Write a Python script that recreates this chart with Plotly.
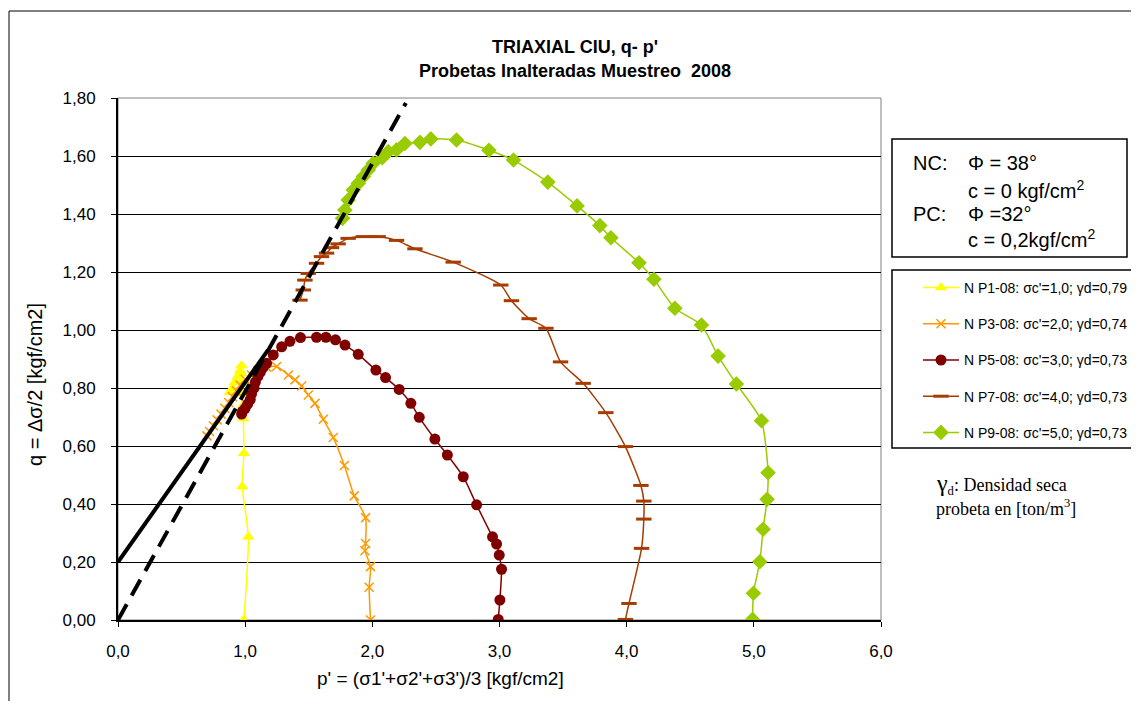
import plotly.graph_objects as go

# ---------------- data ----------------
p1_x = [0.99, 1.025, 0.977, 0.99, 0.985, 0.98, 0.975, 0.97, 0.97, 0.972, 0.96, 0.94, 0.92, 0.90, 0.88]
p1_y = [0.0, 0.287, 0.46, 0.575, 0.695, 0.74, 0.78, 0.82, 0.85, 0.878, 0.86, 0.84, 0.82, 0.80, 0.785]

p3_x = [1.986, 1.975, 1.986, 1.942, 1.947, 1.947, 1.858, 1.78, 1.693, 1.615, 1.549, 1.497, 1.444,
        1.392, 1.34, 1.247, 1.17, 1.10, 1.05, 1.0, 0.96, 0.93, 0.90, 0.87, 0.84, 0.81, 0.78, 0.75,
        0.72, 0.70]
p3_y = [0.0, 0.113, 0.184, 0.239, 0.264, 0.353, 0.428, 0.533, 0.629, 0.692, 0.747, 0.776, 0.807,
        0.828, 0.845, 0.874, 0.872, 0.86, 0.845, 0.83, 0.81, 0.79, 0.77, 0.75, 0.73, 0.71, 0.69,
        0.67, 0.65, 0.635]

p5_x = [2.99, 3.003, 3.016, 2.998, 2.977, 2.945, 2.82, 2.715, 2.59, 2.492, 2.369, 2.303, 2.211,
        2.104, 2.028, 1.889, 1.785, 1.71, 1.635, 1.561, 1.435, 1.352, 1.287, 1.221, 1.169, 1.14,
        1.12, 1.10, 1.08, 1.07, 1.05, 1.04, 1.02, 1.0, 0.98, 0.972]
p5_y = [0.002, 0.069, 0.175, 0.224, 0.262, 0.287, 0.397, 0.494, 0.569, 0.624, 0.699, 0.747, 0.795,
        0.836, 0.862, 0.916, 0.948, 0.966, 0.975, 0.975, 0.974, 0.961, 0.942, 0.914, 0.885, 0.87,
        0.855, 0.84, 0.82, 0.80, 0.78, 0.76, 0.745, 0.73, 0.72, 0.71]

p7_x = [3.99, 4.018, 4.117, 4.135, 4.135, 4.112, 3.99, 3.836, 3.658, 3.48, 3.365, 3.233, 3.094,
        3.01, 2.636, 2.335, 2.19, 2.046, 1.929, 1.81, 1.731, 1.679, 1.64, 1.6, 1.561, 1.496, 1.47,
        1.457, 1.431]
p7_y = [0.002, 0.057, 0.247, 0.348, 0.41, 0.464, 0.598, 0.715, 0.816, 0.89, 1.006, 1.039, 1.101,
        1.155, 1.234, 1.28, 1.309, 1.322, 1.322, 1.316, 1.297, 1.284, 1.265, 1.253, 1.23, 1.195,
        1.172, 1.138, 1.103]

p9_x = [4.99, 4.997, 5.047, 5.073, 5.104, 5.112, 5.06, 4.863, 4.719, 4.588, 4.379, 4.214, 4.097,
        3.876, 3.789, 3.61, 3.38, 3.11, 2.917, 2.662, 2.46, 2.374, 2.256, 2.19, 2.125, 2.078, 2.007,
        1.968, 1.929, 1.89, 1.85, 1.81, 1.784, 1.766]
p9_y = [0.002, 0.092, 0.201, 0.313, 0.416, 0.508, 0.687, 0.814, 0.91, 1.017, 1.075, 1.175, 1.232,
        1.318, 1.36, 1.428, 1.51, 1.586, 1.62, 1.655, 1.659, 1.647, 1.643, 1.621, 1.615, 1.594,
        1.575, 1.552, 1.529, 1.506, 1.483, 1.448, 1.414, 1.385]

nc_x = [0.0, 2.264]
nc_y = [0.0, 1.783]
pc_x = [0.0, 1.18]
pc_y = [0.2, 0.931]

series_names = [
    "N P1-08: σc'=1,0; γd=0,79",
    "N P3-08: σc'=2,0; γd=0,74",
    "N P5-08: σc'=3,0; γd=0,73",
    "N P7-08: σc'=4,0; γd=0,73",
    "N P9-08: σc'=5,0; γd=0,73",
]
series_colors = ["#FFFF00", "#FF9900", "#800000", "#A63C00", "#99CC00"]
x_ticks = [0, 1, 2, 3, 4, 5, 6]
y_ticks = [0, 0.2, 0.4, 0.6, 0.8, 1.0, 1.2, 1.4, 1.6, 1.8]

# ---------------- layout geometry (screen pixels; page body has 8px margin) ----------------
OFF = 8
W, H = 1139 - 2 * OFF, 709 - 2 * OFF
L, R, T, B = 118, 881, 98, 620  # plot area on screen


def px(xp):
    return (xp - L) / (R - L)


def py(yp):
    return (B - yp) / (B - T)


FONT = "Liberation Sans, Arial, sans-serif"
fig = go.Figure()

markers = [
    dict(symbol="triangle-up", size=11, color=series_colors[0]),
    dict(symbol="x-thin-open", size=9, color=series_colors[1], line=dict(width=1.5, color=series_colors[1])),
    dict(symbol="circle", size=11, color=series_colors[2]),
    dict(symbol="line-ew-open", size=11, color=series_colors[3], line=dict(width=3, color=series_colors[3])),
    dict(symbol="diamond", size=12, color=series_colors[4]),
]
data = [(p1_x, p1_y), (p3_x, p3_y), (p5_x, p5_y), (p7_x, p7_y), (p9_x, p9_y)]
for i, (xs, ys) in enumerate(data):
    fig.add_trace(go.Scatter(
        x=xs, y=ys, mode="lines+markers", name=series_names[i],
        line=dict(color=series_colors[i], width=1.5, shape="spline", smoothing=0.6),
        marker=markers[i], legendgroup=f"g{i}",
    ))

fig.add_trace(go.Scatter(x=nc_x, y=nc_y, mode="lines", showlegend=False,
                         line=dict(color="black", width=4, dash="18px,10px")))
fig.add_trace(go.Scatter(x=pc_x, y=pc_y, mode="lines", showlegend=False,
                         line=dict(color="black", width=4)))

shapes = [
    dict(type="rect", xref="paper", yref="paper", x0=px(9), x1=px(1150), y0=py(720), y1=py(11),
         line=dict(color="black", width=1), layer="below"),
    dict(type="rect", xref="paper", yref="paper", x0=0, x1=1, y0=0, y1=1,
         line=dict(color="#808080", width=1), layer="below"),
    dict(type="rect", xref="paper", yref="paper", x0=px(892), x1=px(1127), y0=py(257), y1=py(139),
         line=dict(color="black", width=1.5)),
    dict(type="rect", xref="paper", yref="paper", x0=px(892), x1=px(1150), y0=py(448), y1=py(270),
         line=dict(color="black", width=1.5)),
]

ann = []


def txt(x, y, s, size=20, family=FONT, xanchor="left", **kw):
    ann.append(dict(x=px(x), y=py(y), xref="paper", yref="paper", text=s, showarrow=False,
                    xanchor=xanchor, yanchor="middle", font=dict(size=size, family=family, color="black"),
                    **kw))


txt(911, 163, "NC:")
txt(966, 163, "Φ = 38°")
txt(966, 189, "c = 0 kgf/cm<sup>2</sup>")
txt(911, 214, "PC:")
txt(966, 214, "Φ =32°")
txt(966, 239, "c = 0,2kgf/cm<sup>2</sup>")

SERIF = "Liberation Serif, Times New Roman, serif"
txt(934, 484, "<span style='font-size:24px'>γ</span><sub>d</sub>: Densidad seca", size=18, family=SERIF)
txt(934, 507, "probeta en [ton/m<sup>3</sup>]", size=18, family=SERIF)

txt(575, 47, "<b>TRIAXIAL CIU, q- p'</b>", size=18, xanchor="center")
txt(575, 71, "<b>Probetas Inalteradas Muestreo  2008</b>", size=18, xanchor="center")

txt(440, 678, "p' = (σ1'+σ2'+σ3')/3 [kgf/cm2]", size=19, xanchor="center")
ann.append(dict(x=px(35), y=py(385), xref="paper", yref="paper", text="q = Δσ/2 [kgf/cm2]",
                showarrow=False, textangle=-90, xanchor="center", yanchor="middle",
                font=dict(size=20, family=FONT, color="black")))

fig.update_layout(
    width=W, height=H,
    margin=dict(l=L - OFF, r=W - (R - OFF), t=T - OFF, b=H - (B - OFF), pad=0, autoexpand=False),
    paper_bgcolor="white", plot_bgcolor="white",
    separators=",.",
    showlegend=True,
    legend=dict(x=px(918), y=py(272), xanchor="left", yanchor="top",
                font=dict(size=14, family=FONT, color="black"),
                bgcolor="rgba(0,0,0,0)", borderwidth=0, tracegroupgap=15,
                itemwidth=36),
    shapes=shapes,
    annotations=ann,
    xaxis=dict(range=[0, 6], tickvals=x_ticks, tickformat=".1f", showgrid=False,
               showline=True, linecolor="black", linewidth=2, ticks="outside", ticklen=5,
               tickcolor="black", tickfont=dict(size=17, family=FONT, color="black"),
               ticklabelstandoff=10, zeroline=False, fixedrange=True),
    yaxis=dict(range=[0, 1.8], tickvals=y_ticks, tickformat=".2f", showgrid=True,
               gridcolor="black", gridwidth=1, showline=True, linecolor="black", linewidth=2,
               ticks="outside", ticklen=5, tickcolor="black", ticklabelstandoff=12,
               tickfont=dict(size=17, family=FONT, color="black"), zeroline=False, fixedrange=True),
)

fig.write_html("out.html")
